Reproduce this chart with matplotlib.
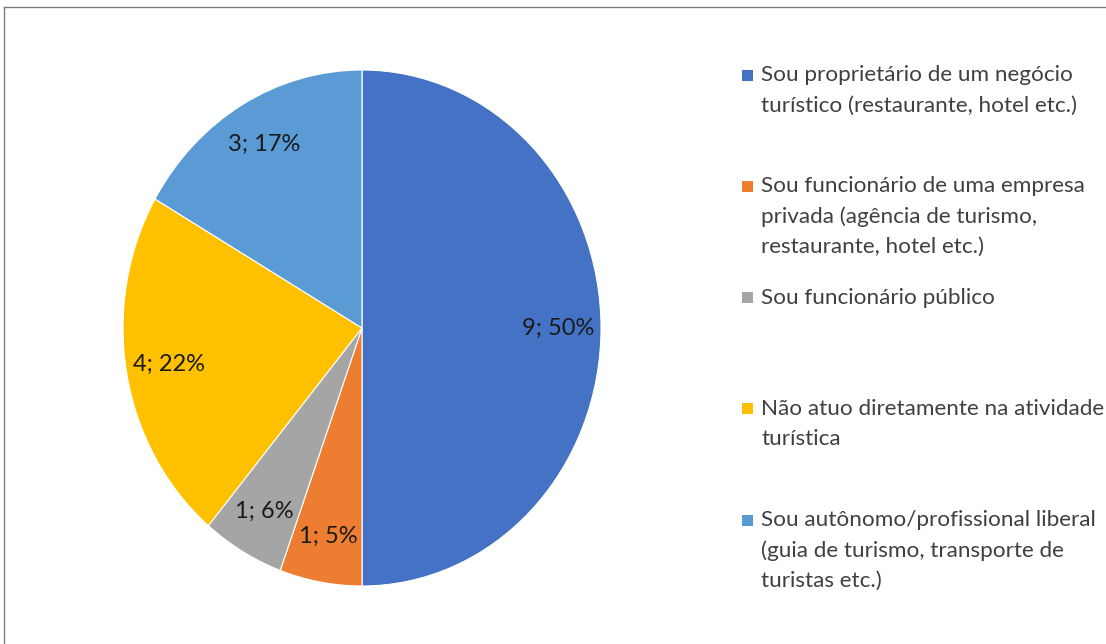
import matplotlib
matplotlib.use("Agg")
import matplotlib.pyplot as plt
from matplotlib.patches import Rectangle

plt.rcParams['font.family'] = ['Lato', 'DejaVu Sans']

categories = [
    "Sou proprietário de um negócio\nturístico (restaurante, hotel etc.)",
    "Sou funcionário de uma empresa\nprivada (agência de turismo,\nrestaurante, hotel etc.)",
    "Sou funcionário público",
    "Não atuo diretamente na atividade\nturística",
    "Sou autônomo/profissional liberal\n(guia de turismo, transporte de\nturistas etc.)",
]
counts = [9, 1, 1, 4, 3]
pct_labels = ["50%", "5%", "6%", "22%", "17%"]
colors = ["#4472C4", "#ED7D31", "#A5A5A5", "#FFC000", "#5B9BD5"]

W, H = 1106, 644
fig = plt.figure(figsize=(W / 100, H / 100), dpi=100)

# frame of the screenshot (top and left border only)
fig.add_artist(plt.Line2D([4 / W, 1], [1 - 7 / H, 1 - 7 / H], color="#7f7f7f", lw=1))
fig.add_artist(plt.Line2D([4 / W, 4 / W], [0, 1 - 7 / H], color="#7f7f7f", lw=1))

# pie axes (slightly stretched vertically like the reference)
cx, cy, rx, ry = 362, 328, 239, 258
ax = fig.add_axes([(cx - rx) / W, 1 - (cy + ry) / H, 2 * rx / W, 2 * ry / H])
data_labels = ["%d; %s" % (c, p) for c, p in zip(counts, pct_labels)]
wedges, texts = ax.pie(counts, colors=colors, startangle=90, counterclock=False,
                       labels=data_labels, labeldistance=0.82,
                       wedgeprops=dict(edgecolor="white", linewidth=0.8),
                       textprops=dict(fontsize=17, color="#1a1a1a"))
for t in texts:
    t.set_ha("center")
    t.set_va("center")
ax.set_aspect("auto")
ax.set_xlim(-1, 1)
ax.set_ylim(-1, 1)

# legend, Excel style: evenly spaced entries
line_h = 30.5
for i, (lab, col) in enumerate(zip(categories, colors)):
    y0 = 75 + i * 111.3
    fig.add_artist(Rectangle((742 / W, 1 - (y0 + 5.5) / H), 11 / W, 11 / H,
                             facecolor=col, edgecolor="none"))
    for j, line in enumerate(lab.split("\n")):
        fig.text(761 / W, 1 - (y0 + j * line_h) / H, line, fontsize=16.2,
                 color="#404040", ha="left", va="center")

fig.savefig("out.png", dpi=100)
